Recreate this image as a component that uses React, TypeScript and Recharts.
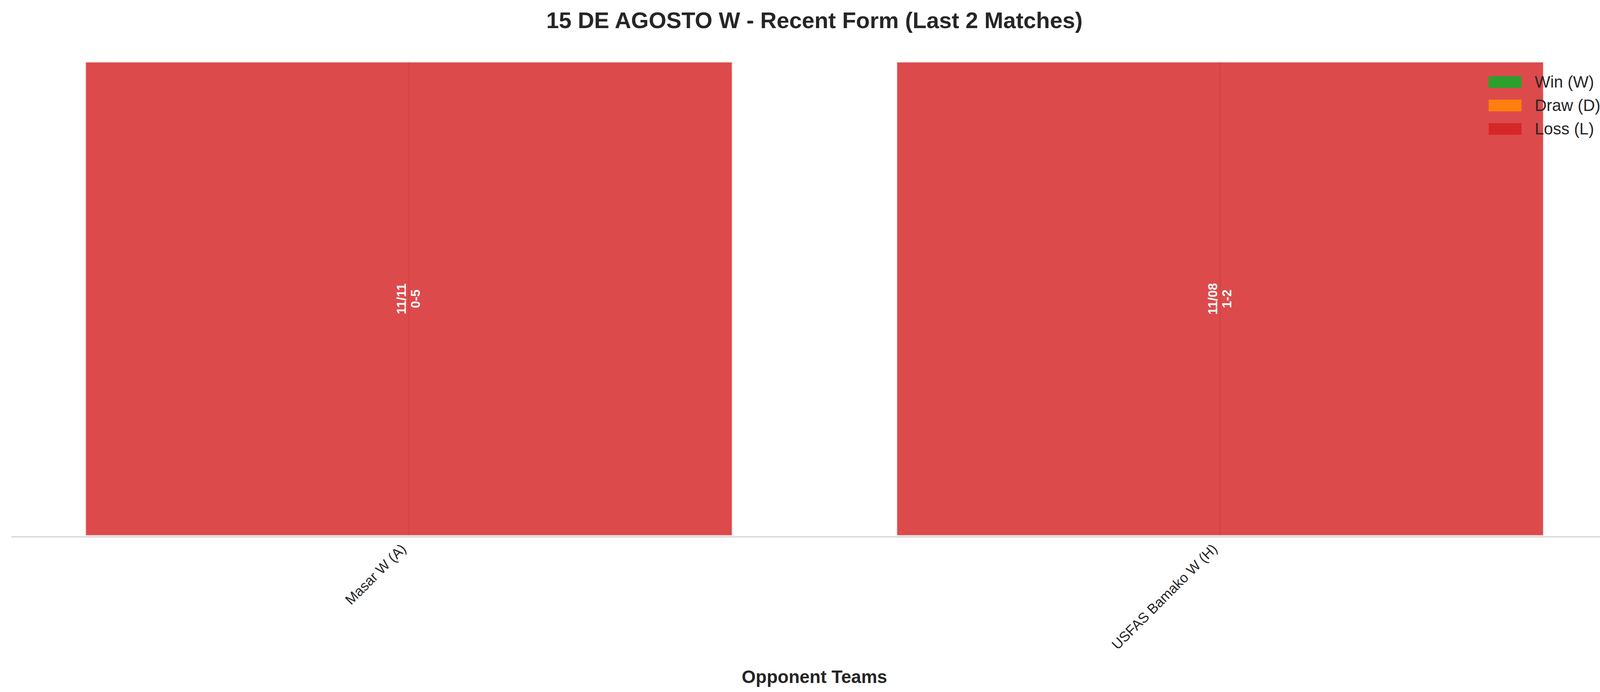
import React from 'react';
import { BarChart, Bar, XAxis, YAxis, CartesianGrid, Legend, LabelList, Cell } from 'recharts';

// Recent form of 15 DE AGOSTO W: one full-height bar per match, coloured by result
const TEAM = '15 DE AGOSTO W';
const opponents = ['Masar W (A)', 'USFAS Bamako W (H)'];
const matchDates = ['11/11', '11/08'];
const scores = ['0-5', '1-2'];
const results = ['L', 'L'];
const formHeight = [1, 1];

const resultKeys = ['W', 'D', 'L'];
const resultLabels = ['Win (W)', 'Draw (D)', 'Loss (L)'];
const resultColors = ['#2ca02c', '#ff7f0e', '#d62728'];

const data = opponents.map((name, i) => ({
  idx: i,
  name,
  date: matchDates[i],
  score: scores[i],
  result: results[i],
  value: formHeight[i],
}));

const colorOf = (r: string) => resultColors[resultKeys.indexOf(r)] ?? '#888';

const W = 4170;
const H = 1771;
const PLOT_LEFT = 29;
const PLOT_RIGHT = 4141;
const PLOT_TOP = 156;
const AXIS_Y = 1374;
const X_DOMAIN: [number, number] = [-0.49, 1.49];
const STEP = (PLOT_RIGHT - PLOT_LEFT) / (X_DOMAIN[1] - X_DOMAIN[0]);
const BAR_SIZE = Math.round(STEP * 0.8 - 4);

const FONT = '"Liberation Sans", Arial, Helvetica, sans-serif';
const INK = '#262626';

const OpponentTick = (props: any) => {
  const { x, payload } = props;
  const ax = x - 5;
  const ay = AXIS_Y + 33;
  return (
    <text
      x={ax}
      y={ay}
      transform={`rotate(-45, ${ax}, ${ay})`}
      textAnchor="end"
      fontFamily={FONT}
      fontSize={36}
      fill={INK}
    >
      {opponents[payload.value]}
    </text>
  );
};

const MatchLabel = (props: any) => {
  const { x, y, width, height, index } = props;
  const cx = x + width / 2;
  const cy = y + height / 2;
  return (
    <text
      transform={`translate(${cx}, ${cy}) rotate(-90)`}
      textAnchor="middle"
      fontFamily={FONT}
      fontSize={33}
      fontWeight="bold"
      fill="#ffffff"
    >
      <tspan x={0} y={-8}>{matchDates[index]}</tspan>
      <tspan x={0} y={28}>{scores[index]}</tspan>
    </text>
  );
};

const FormLegend = () => (
  <div style={{ fontFamily: FONT, fontSize: 42, color: INK }}>
    {resultLabels.map((label, i) => (
      <div key={label} style={{ display: 'flex', alignItems: 'center', height: 60 }}>
        <div style={{ width: 84, height: 30, background: resultColors[i], marginRight: 34 }} />
        <span style={{ lineHeight: '60px', whiteSpace: 'nowrap' }}>{label}</span>
      </div>
    ))}
  </div>
);

// grid lines sit at the category positions only
const gridX = opponents.map((_, i) => PLOT_LEFT + (i - X_DOMAIN[0]) * STEP);

export default function App() {
  const plotCenter = (PLOT_LEFT + PLOT_RIGHT) / 2;
  return (
    <div style={{ width: W, height: H, background: '#ffffff', overflow: 'hidden' }}>
      <style>{'html,body{margin:0;padding:0;overflow:hidden;}'}</style>
      <BarChart
        width={W}
        height={H}
        data={data}
        margin={{ top: PLOT_TOP, right: W - PLOT_RIGHT, left: PLOT_LEFT, bottom: 0 }}
      >
        <CartesianGrid horizontal={false} vertical verticalPoints={gridX} stroke="#cccccc" strokeWidth={3} />
        <XAxis
          type="number"
          dataKey="idx"
          domain={X_DOMAIN}
          ticks={[0, 1]}
          interval={0}
          height={H - AXIS_Y}
          axisLine={{ stroke: '#cccccc', strokeWidth: 2.5 }}
          tickLine={false}
          tick={<OpponentTick />}
          label={{
            value: 'Opponent Teams',
            position: 'insideBottom',
            offset: 23,
            fontFamily: FONT,
            fontSize: 46,
            fontWeight: 'bold',
            fill: INK,
          }}
        />
        <YAxis hide domain={[-0.00206, 1.00165]} />
        <Legend
          layout="vertical"
          align="center"
          verticalAlign="middle"
          wrapperStyle={{ left: 3811, top: 180, width: 300 }}
          content={<FormLegend />}
        />
        <Bar
          dataKey="value"
          barSize={BAR_SIZE}
          fill={resultColors[2]}
          fillOpacity={0.84}
          stroke="#ffffff"
          strokeWidth={4}
          strokeOpacity={0.8}
          isAnimationActive={false}
        >
          {data.map((d, i) => (
            <Cell key={`cell-${i}`} fill={colorOf(d.result)} />
          ))}
          <LabelList dataKey="value" content={<MatchLabel />} />
        </Bar>
        <text
          x={plotCenter}
          y={72}
          textAnchor="middle"
          fontFamily={FONT}
          fontSize={58}
          fontWeight="bold"
          fill={INK}
        >
          {`${TEAM} - Recent Form (Last ${opponents.length} Matches)`}
        </text>
      </BarChart>
    </div>
  );
}
